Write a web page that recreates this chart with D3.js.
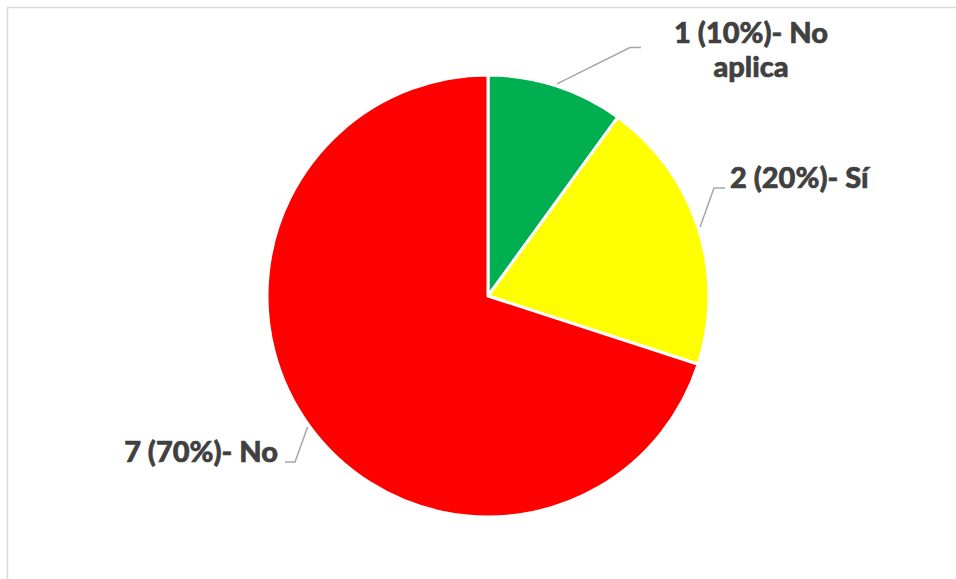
<!DOCTYPE html>
<html>
<head>
<meta charset="utf-8">
<script src="https://cdn.jsdelivr.net/npm/d3@7"></script>
<style>
  html, body { margin: 0; padding: 0; background: #fff; }
  svg { display: block; }
</style>
</head>
<body>
<svg id="chart" width="956" height="579"></svg>
<script>
// ---- data ----
const categories = ["No aplica", "Sí", "No"];
const counts = [1, 2, 7];
const percents = ["10%", "20%", "70%"];
const colors = ["#00B050", "#FFFF00", "#FF0000"];

const svg = d3.select("#chart");

// chart area border (only top/left visible in the frame)
svg.append("rect")
  .attr("x", 7.5).attr("y", 7.5)
  .attr("width", 1100).attr("height", 1100)
  .attr("fill", "#fff")
  .attr("stroke", "#d9d9d9").attr("stroke-width", 1.5);

const cx = 488, cy = 296, r = 221;
const g = svg.append("g").attr("transform", `translate(${cx},${cy})`);

const pie = d3.pie().sort(null).value(d => d.count);
const data = categories.map((c, i) => ({ cat: c, count: counts[i], pct: percents[i], color: colors[i] }));
const arcs = pie(data);
const arc = d3.arc().innerRadius(0).outerRadius(r);

g.selectAll("path.slice").data(arcs).enter().append("path")
  .attr("class", "slice")
  .attr("d", arc)
  .attr("fill", d => d.data.color)
  .attr("stroke", "#fff")
  .attr("stroke-width", 3)
  .attr("stroke-linejoin", "round");

// label layout: elbow point (absolute), horizontal tail end, text anchor
const layout = [
  { elbow: [630, 47.5], tail: 641, lines: ["1 (10%)- No", "aplica"], tx: 751, ty: [43, 77], anchor: "middle" },
  { elbow: [714, 188], tail: 725, lines: ["2 (20%)- Sí"], tx: 730, ty: [188], anchor: "start" },
  { elbow: [295, 462], tail: 285, lines: ["7 (70%)- No"], tx: 278, ty: [462], anchor: "end" }
];

const leaderR = r + 2;
arcs.forEach((a, i) => {
  const mid = (a.startAngle + a.endAngle) / 2;
  const sx = cx + Math.sin(mid) * leaderR;
  const sy = cy - Math.cos(mid) * leaderR;
  const L = layout[i];
  svg.append("polyline")
    .attr("points", `${sx},${sy} ${L.elbow[0]},${L.elbow[1]} ${L.tail},${L.elbow[1]}`)
    .attr("fill", "none")
    .attr("stroke", "#a6a6a6")
    .attr("stroke-width", 1.5);
  const t = svg.append("text")
    .attr("text-anchor", L.anchor)
    .attr("font-family", "Lato, 'Open Sans', sans-serif")
    .attr("font-weight", 900)
    .attr("font-size", 29)
    .attr("fill", "#404040")
    .attr("stroke", "#404040")
    .attr("stroke-width", 0.6)
    .attr("paint-order", "stroke");
  L.lines.forEach((ln, j) => {
    t.append("tspan").attr("x", L.tx).attr("y", L.ty[j]).text(ln);
  });
});
</script>
</body>
</html>
